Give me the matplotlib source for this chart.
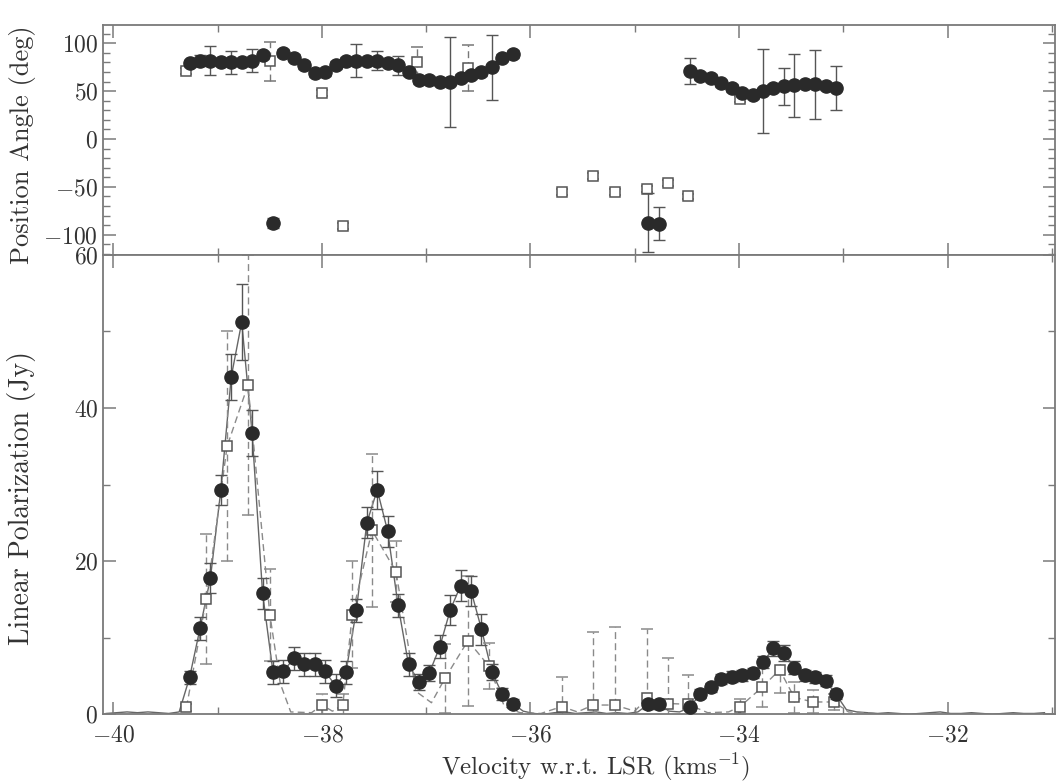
import numpy as np
import matplotlib
matplotlib.use("Agg")
import matplotlib.pyplot as plt
from matplotlib.ticker import MultipleLocator

plt.rcParams['font.family'] = 'serif'
plt.rcParams['font.serif'] = ['cmr10', 'DejaVu Serif']
plt.rcParams['mathtext.fontset'] = 'cm'
plt.rcParams['axes.formatter.use_mathtext'] = True

# channel grid, 0.1 km/s spacing
vel = np.round(-40.07 + 0.1 * np.arange(91), 2)

# linear polarization spectrum (Jy), one value per channel
lin_pol = [0.1, 0.2, 0.3, 0.2, 0.3, 0.2, 0.1, 0.3,
           4.8, 11.2, 17.8, 29.3, 44.1, 51.2, 36.7, 15.8, 5.5, 5.6, 7.3, 6.5,
           6.5, 5.6, 3.7, 5.5, 13.6, 25.0, 29.3, 23.9, 14.2, 6.5, 4.2, 5.4,
           8.8, 13.6, 16.8, 16.1, 11.1, 5.5, 2.6, 1.4,
           0.4, 0.1, 0.0, 0.2, 0.3, 0.1, 0.2, 0.3, 0.1, 0.2, 0.1, 0.3,
           1.3, 1.3, 0.4, 0.3,
           0.9, 2.7, 3.5, 4.6, 4.9, 5.1, 5.4, 6.8, 8.6, 8.0, 6.1, 5.1, 4.8, 4.4, 2.6,
           0.6, 0.3, 0.2, 0.1, 0.2, 0.1, 0.0, 0.1, 0.2, 0.3, 0.1, 0.1, 0.2, 0.1,
           0.0, 0.1, 0.2, 0.1, 0.1, 0.2]

# channels with a measured position angle (filled circles)
circ_idx = list(range(8, 40)) + [52, 53] + list(range(56, 71))
circ_flux_err = [0.8, 1.5, 2, 2, 3, 5, 3, 2, 1.5, 1.5, 1.5, 1.5, 1.5, 1.5, 1.5, 1.5,
                 1.5, 2, 2.5, 2, 1.5, 1.5, 1, 1, 1.5, 2, 2, 2, 2, 1, 0.8, 0.6,
                 0.6, 0.6,
                 0.5, 0.6, 0.6, 0.7, 0.7, 0.7, 0.7, 0.8, 1.0, 1.0, 0.8, 0.7, 0.7, 0.7, 0.6]
circ_pa = [79, 82, 82, 80, 80, 80, 82, 87.5, -87.5, 89.6, 85, 77, 69, 70, 77, 82,
           82, 81, 82, 79, 77, 70, 61.5, 61.5, 60, 60, 63.5, 67, 70, 75, 85, 88.5,
           -87.5, -88.5,
           71, 65.6, 63.5, 58, 53, 48, 46, 50, 53, 55, 56, 57, 57, 55, 53]
circ_pa_err = [4, 6, 15, 4, 12, 4, 12, 4, 5, 4, 4, 4, 4, 4, 4, 4,
               17, 4, 10, 4, 10, 4, 4, 4, 4, 47, 4, 4, 4, 34, 4, 4,
               31, 17,
               14, 4, 4, 4, 4, 4, 4, 44, 4, 19, 33, 4, 36, 4, 23]

# second component (open squares, dashed)
sq_v = [-39.30, -39.11, -38.91, -38.71, -38.50, -38.00, -37.80, -37.71, -37.52,
        -37.29, -36.82, -36.60, -36.40, -35.70, -35.40, -35.19, -34.88, -34.68,
        -34.49, -33.99, -33.78, -33.61, -33.47, -33.29, -33.09]
sq_flux = [0.9, 15, 35, 43, 13, 1.2, 1.2, 13, 24, 18.6, 4.7, 9.6, 6.3, 1.0,
           1.2, 1.2, 2.1, 1.4, 1.3, 1.0, 3.5, 5.8, 2.2, 1.6, 1.6]
sq_flux_err = [0.5, 8.5, 15, 17, 6, 1.5, 1.5, 7, 10, 4, 4.5, 8.5, 3, 3.8,
               9.5, 10.2, 9, 6, 3.8, 1, 2.5, 3, 2, 1.5, 1]

dash_v = [-39.30, -39.11, -38.91, -38.71, -38.50, -38.40, -38.30, -38.10, -38.00,
          -37.90, -37.80, -37.71, -37.52, -37.29, -37.10, -36.95, -36.82, -36.60,
          -36.40, -36.25, -36.10, -35.90, -35.70, -35.55, -35.40, -35.19, -35.00,
          -34.88, -34.68, -34.49, -34.30, -34.10, -33.99, -33.78, -33.61, -33.47,
          -33.29, -33.09, -32.95, -32.70]
dash_flux = [0.9, 15, 35, 43, 13, 4, 0.3, 0.2, 1.2, 0.4, 1.2, 13, 24, 18.6, 3,
             1.5, 4.7, 9.6, 6.3, 1, 0.2, 0.1, 1.0, 0.3, 1.2, 1.2, 0.4, 2.1, 1.4,
             1.3, 0.2, 0.3, 1.0, 3.5, 5.8, 2.2, 1.6, 1.6, 0.3, 0.1]

sqpa_v = [-39.30, -38.50, -38.00, -37.80, -37.09, -36.60, -35.70, -35.40,
          -35.19, -34.88, -34.68, -34.49, -33.99]
sqpa = [71, 81, 48, -90.6, 80, 74, -55, -38.5, -55.7, -52, -46, -60, 41.6]
sqpa_err = [3, 20, 3, 3, 16, 24, 3, 3, 3, 3, 3, 3, 3]

circ_v = vel[circ_idx]
circ_flux = np.array(lin_pol)[circ_idx]

fig = plt.figure(figsize=(10.57, 7.84), dpi=100)
ax1 = fig.add_axes([0.0975, 0.675, 0.9005, 0.293])
ax2 = fig.add_axes([0.0975, 0.089, 0.9005, 0.586], sharex=ax1)

frame = '#7a7a7a'
dark = '#2a2a2a'

def dashed_bars(eb):
    for c in eb[2]:
        c.set_linestyle((0, (5, 3)))

# top panel: position angle
ax1.errorbar(circ_v, circ_pa, yerr=circ_pa_err, fmt='o', color=dark, ms=9.5,
             ecolor='#555555', elinewidth=1.0, capsize=4, zorder=3)
eb = ax1.errorbar(sqpa_v, sqpa, yerr=sqpa_err, fmt='s', mfc='white', mec='#555555',
                  mew=1.1, ms=7, ecolor='#777777', elinewidth=1.0, capsize=4, zorder=2)
dashed_bars(eb)
ax1.set_ylim(-121, 119)
ax1.yaxis.set_major_locator(MultipleLocator(50))
ax1.yaxis.set_minor_locator(MultipleLocator(10))
ax1.set_ylabel('Position Angle (deg)', fontsize=19, color='#333333')
ax1.yaxis.set_label_coords(-0.07, 0.48)
ax1.tick_params(labelbottom=False)

# bottom panel: linear polarization
ax2.plot(vel, lin_pol, '-', color='#666666', lw=1.0, zorder=1)
ax2.plot(dash_v, dash_flux, color='#8a8a8a', lw=1.0, ls=(0, (5, 3)), zorder=1)
eb = ax2.errorbar(sq_v, sq_flux, yerr=sq_flux_err, fmt='s', mfc='white', mec='#555555',
                  mew=1.1, ms=7, ecolor='#8a8a8a', elinewidth=1.0, capsize=4, zorder=2)
dashed_bars(eb)
ax2.errorbar(circ_v, circ_flux, yerr=circ_flux_err, fmt='o', color=dark, ms=9.5,
             ecolor='#555555', elinewidth=1.0, capsize=4, zorder=3)
ax2.set_ylim(0, 60)
ax2.set_xlim(-40.1, -30.97)
ax2.yaxis.set_major_locator(MultipleLocator(20))
ax2.yaxis.set_minor_locator(MultipleLocator(10))
ax2.xaxis.set_major_locator(MultipleLocator(2))
ax2.xaxis.set_minor_locator(MultipleLocator(1))
ax2.set_ylabel('Linear Polarization (Jy)', fontsize=20, color='#333333')
ax2.yaxis.set_label_coords(-0.07, 0.47)
ax2.set_xlabel(r'Velocity w.r.t. LSR (kms$^{-1}$)', fontsize=18, color='#333333')
ax2.xaxis.set_label_coords(0.517, -0.08)

for ax in (ax1, ax2):
    for s in ax.spines.values():
        s.set_color(frame)
        s.set_linewidth(1.3)
    ax.tick_params(which='both', direction='in', top=True, right=True,
                   color=frame, labelsize=17, labelcolor='#333333')
    ax.tick_params(which='major', length=9, width=1.1)
    ax.tick_params(which='minor', length=5, width=1.0)
ax2.tick_params(axis='x', which='both', pad=7)

fig.savefig('out.png', dpi=100)
